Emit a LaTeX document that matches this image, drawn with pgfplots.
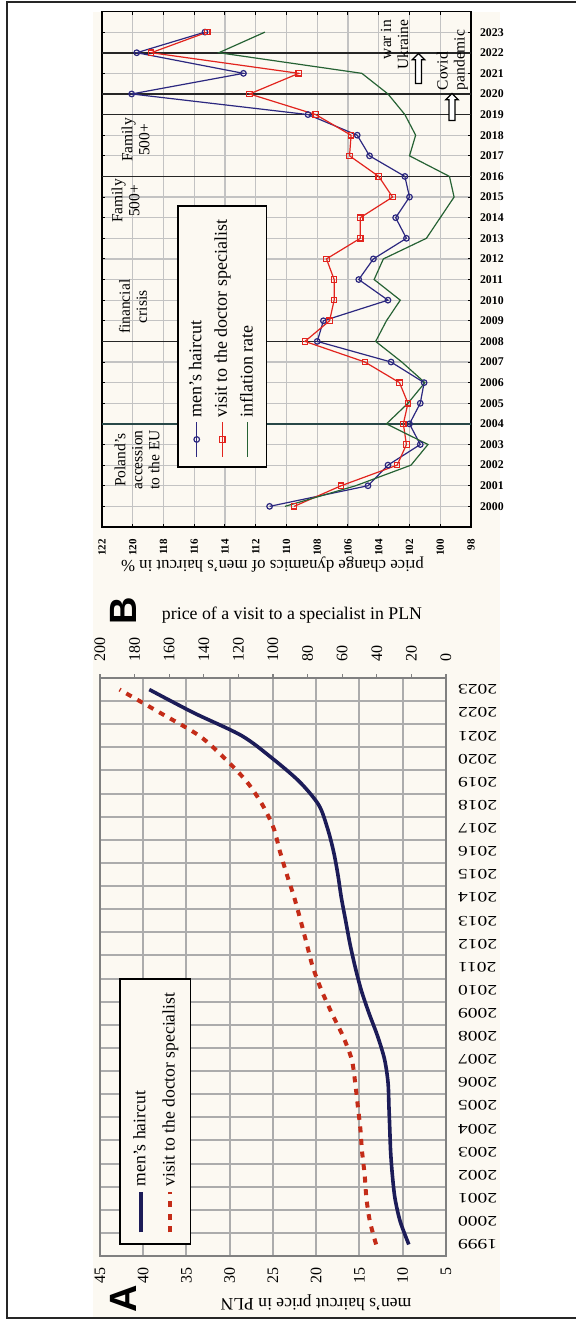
\documentclass[border=0pt]{standalone}
\usepackage{fontspec}
\setmainfont{Liberation Serif}
\newfontfamily\widefont[FakeStretch=1.35]{Liberation Serif}
\newfontfamily\labfont{Liberation Sans}
\usepackage{pgfplots}
\pgfplotsset{compat=1.18}
\usetikzlibrary{shapes.arrows}
\definecolor{cream}{RGB}{252,249,242}
\definecolor{navyA}{RGB}{28,28,88}
\definecolor{redA}{RGB}{196,44,24}
\definecolor{navyB}{RGB}{44,40,128}
\definecolor{redB}{RGB}{226,36,30}
\definecolor{greenB}{RGB}{38,98,52}
\definecolor{gridcolA}{RGB}{172,172,172}
\definecolor{gridcolB}{RGB}{195,195,195}
\definecolor{slate}{RGB}{40,72,72}
\begin{document}
\begin{tikzpicture}
\path[use as bounding box] (0,0) rectangle (288pt,660pt);
\fill[cream] (46.5pt,1pt) rectangle (250pt,654pt);
\draw[black!85, line width=1pt] (288pt,659pt) -- (3.5pt,659pt) -- (3.5pt,1pt) -- (288pt,1pt);

% ---------------- Panel A (haircut, bottom axis) ----------------
\begin{axis}[
  at={(50pt,32pt)}, anchor=south west, scale only axis,
  width=173pt, height=289pt,
  xmin=5, xmax=45, x dir=reverse,
  ymin=1998.5, ymax=2023.5,
  xtick={5,10,...,45},
  xticklabel style={rotate=90, anchor=east, font=\fontsize{8}{8}\selectfont},
  xticklabel shift=2pt,
  ytick={1999.5,2000.5,2001.5,2002.5,2003.5,2004.5,2005.5,2006.5,2007.5,2008.5,2009.5,2010.5,2011.5,2012.5,2013.5,2014.5,2015.5,2016.5,2017.5,2018.5,2019.5,2020.5,2021.5,2022.5},
  yticklabels={},
  extra y ticks={1999,2000,2001,2002,2003,2004,2005,2006,2007,2008,2009,2010,2011,2012,2013,2014,2015,2016,2017,2018,2019,2020,2021,2022,2023},
  extra y tick labels={1999,2000,2001,2002,2003,2004,2005,2006,2007,2008,2009,2010,2011,2012,2013,2014,2015,2016,2017,2018,2019,2020,2021,2022,2023},
  extra y tick style={grid=none},
  yticklabel pos=right,
  yticklabel style={rotate=180, anchor=east, font=\widefont\fontsize{7.25}{8}\selectfont},
  yticklabel shift=2.5pt,
  major tick length=0pt,
  grid=major,
  major grid style={gridcolA, line width=1pt},
  axis line style={gray, line width=0.8pt},
  /pgf/number format/1000 sep={},
  /pgf/number format/assume math mode=true,
]
\addplot[navyA, line width=1.8pt, smooth] coordinates {
(9.3,1999) (10.3,2000) (10.9,2001) (11.2,2002) (11.4,2003) (11.5,2004)
(11.6,2005) (11.7,2006) (12.1,2007) (12.9,2008) (13.9,2009) (14.8,2010)
(15.5,2011) (16.1,2012) (16.6,2013) (17.1,2014) (17.5,2015) (18.0,2016)
(18.7,2017) (19.7,2018) (21.9,2019) (25.0,2020) (28.6,2021) (34.2,2022) (39.3,2023)};
\end{axis}

% ---------------- Panel A (specialist, top axis) ----------------
\begin{axis}[
  at={(50pt,32pt)}, anchor=south west, scale only axis,
  width=173pt, height=289pt,
  xmin=0, xmax=200, x dir=reverse,
  ymin=1998.5, ymax=2023.5,
  axis x line*=top, axis y line=none,
  xtick={0,20,...,200}, tick align=outside, major tick length=1.8pt,
  xtick style={gray, line width=0.6pt},
  axis line style={gray, line width=0.8pt},
  xticklabel style={rotate=90, anchor=west, font=\fontsize{8}{8}\selectfont},
  xticklabel shift=3pt,
  /pgf/number format/assume math mode=true,
  legend to name=legA,
  legend style={draw=black, line width=0.8pt, fill=cream,
    font=\fontsize{8.8}{9}\selectfont,
    inner xsep=5pt, inner ysep=4.5pt, row sep=3pt, cells={anchor=west}},
  legend image code/.code={\draw[#1] (0pt,0pt) -- (20pt,0pt);},
]
\addlegendimage{navyA, line width=1.8pt}
\addlegendentry{men's haircut}
\addplot[redA, line width=2pt, dash pattern=on 3pt off 3.3pt, smooth] coordinates {
(40.4,1999) (44,2000) (46,2001) (47,2002) (48.5,2003) (49.5,2004) (51,2005)
(52.5,2006) (54.5,2007) (59.5,2008) (66,2009) (72,2010) (77,2011) (80.5,2012)
(84,2013) (87.7,2014) (92,2015) (96,2016) (99.6,2017) (106,2018) (115,2019)
(127.6,2020) (142.6,2021) (165.4,2022) (188.7,2023)};
\addlegendentry{visit to the doctor specialist}
\end{axis}

% ---------------- Panel B ----------------
\begin{axis}[
  at={(51pt,396.5pt)}, anchor=south west, scale only axis,
  width=184.5pt, height=257.75pt,
  xmin=98, xmax=122, x dir=reverse,
  ymin=1999, ymax=2024,
  xtick={98,100,...,122}, ytick={2000,...,2023},
  tick align=inside, major tick length=1.6pt,
  tick style={black, line width=0.5pt},
  xticklabel style={rotate=90, anchor=east, font=\bfseries\fontsize{5.5}{6}\selectfont},
  xticklabel shift=2.5pt,
  yticklabel pos=right,
  yticklabel style={anchor=west, font=\bfseries\fontsize{5.9}{6}\selectfont},
  yticklabel shift=1pt,
  grid=major, major grid style={gridcolB, line width=0.6pt},
  axis line style={black, line width=0.9pt},
  /pgf/number format/1000 sep={},
  /pgf/number format/assume math mode=true,
  legend to name=legB,
  legend style={draw=black, line width=0.8pt, fill=cream,
    font=\fontsize{9}{9}\selectfont,
    inner xsep=5pt, inner ysep=3.5pt, row sep=1pt, cells={anchor=west}},
]
\draw[slate, line width=0.9pt] (axis cs:98,2004) -- (axis cs:122,2004);
\draw[black!85, line width=0.8pt] (axis cs:98,2008) -- (axis cs:122,2008);
\draw[black!85, line width=0.8pt] (axis cs:98,2016) -- (axis cs:122,2016);
\draw[black!85, line width=0.8pt] (axis cs:98,2019) -- (axis cs:122,2019);
\draw[black!85, line width=1.3pt] (axis cs:98,2020) -- (axis cs:122,2020);
\draw[black!85, line width=0.8pt] (axis cs:98,2022) -- (axis cs:122,2022);
\addplot[navyB, line width=0.6pt, mark=o, mark size=1.4pt, mark options={fill=cream}] coordinates {
(111.1,2000) (104.7,2001) (103.4,2002) (101.3,2003) (102.0,2004) (101.3,2005)
(101.05,2006) (103.2,2007) (108.0,2008) (107.6,2009) (103.4,2010) (105.3,2011)
(104.35,2012) (102.2,2013) (102.9,2014) (102.0,2015) (102.3,2016) (104.6,2017)
(105.4,2018) (108.6,2019) (120.07,2020) (112.8,2021) (119.74,2022) (115.3,2023)};
\addlegendentry{men's haircut}
\addplot[redB, line width=0.6pt, mark=square, mark size=1.35pt, mark options={fill=cream}] coordinates {
(109.5,2000) (106.45,2001) (102.8,2002) (102.2,2003) (102.4,2004) (102.1,2005)
(102.65,2006) (104.9,2007) (108.8,2008) (107.2,2009) (106.9,2010) (106.9,2011)
(107.4,2012) (105.2,2013) (105.2,2014) (103.1,2015) (104.0,2016) (105.9,2017)
(105.8,2018) (108.1,2019) (112.4,2020) (109.2,2021) (118.8,2022) (115.15,2023)};
\addlegendentry{visit to the doctor specialist}
\addplot[greenB, line width=0.6pt] coordinates {
(110.1,2000) (105.5,2001) (101.9,2002) (100.8,2003) (103.5,2004) (102.1,2005)
(101.0,2006) (102.5,2007) (104.2,2008) (103.5,2009) (102.6,2010) (104.3,2011)
(103.7,2012) (100.9,2013) (100.0,2014) (99.1,2015) (99.4,2016) (102.0,2017)
(101.6,2018) (102.3,2019) (103.4,2020) (105.1,2021) (114.4,2022) (111.4,2023)};
\addlegendentry{inflation rate}
\end{axis}

% ---------------- rotated legends ----------------
\node[rotate=90, inner sep=0pt] at (77.7pt,104.25pt) {\pgfplotslegendfromname{legA}};
\node[rotate=90, inner sep=0pt] at (111.15pt,491.75pt) {\pgfplotslegendfromname{legB}};

% ---------------- annotations ----------------
\begin{scope}[every node/.style={font=\fontsize{7.75}{8.5}\selectfont}]
\node[rotate=90, align=center] at (68.5pt,430pt) {Poland's\\accession\\to the EU};
\node[rotate=90, align=center] at (66.5pt,506.6pt) {financial\\crisis};
\node[rotate=90, align=center] at (62.75pt,559.5pt) {Family\\500+};
\node[rotate=90, align=center] at (67.75pt,590pt) {Family\\500+};
\node[rotate=90, align=right] at (197.25pt,637.5pt) {war in\\Ukraine};
\node[rotate=90, align=left] at (226.25pt,630pt) {Covid\\pandemic};
\end{scope}
\node[single arrow, draw=black, line width=0.6pt, fill=white, rotate=90,
  minimum height=15pt, inner sep=1.2pt, single arrow head extend=1.6pt,
  single arrow head indent=0pt] at (209.25pt,625pt) {};
\node[single arrow, draw=black, line width=0.6pt, fill=white, rotate=90,
  minimum height=13.5pt, inner sep=1.2pt, single arrow head extend=1.6pt,
  single arrow head indent=0pt] at (226pt,605.75pt) {};

\node[rotate=180, font=\fontsize{8.4}{9}\selectfont] at (136.25pt,377.5pt) {price change dynamics of men's haircut in \%};
\node[font=\fontsize{8.9}{9}\selectfont] at (146pt,352.5pt) {price of a visit to a specialist in PLN};
\node[rotate=180, font=\fontsize{8.8}{9}\selectfont] at (158pt,8.5pt) {men's haircut price in PLN};
\node[rotate=90, font=\labfont\bfseries\fontsize{19}{19}\selectfont] at (61.65pt,10.5pt) {A};
\node[rotate=90, font=\labfont\bfseries\fontsize{19}{19}\selectfont] at (61.65pt,354.85pt) {B};
\end{tikzpicture}
\end{document}
